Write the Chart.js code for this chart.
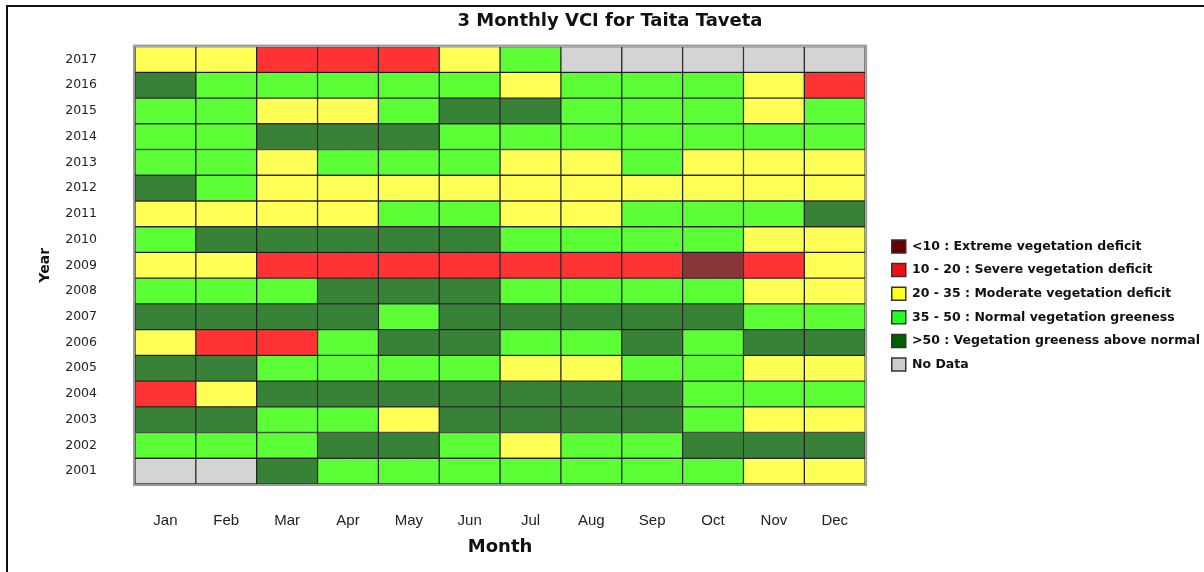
<!DOCTYPE html>
<html>
<head>
<meta charset="utf-8">
<title>3 Monthly VCI for Taita Taveta</title>
<script src="https://cdn.jsdelivr.net/npm/chart.js@4.4.1/dist/chart.umd.min.js"></script>
<style>
  html, body { margin: 0; padding: 0; background: #fff; }
  #frame { position: absolute; left: 6px; top: 5px; width: 1210px; height: 600px; border-top: 2px solid #111; border-left: 2px solid #111; }
  #wrap { position: absolute; left: 0; top: 0; width: 1204px; height: 572px; }
</style>
</head>
<body>
<div id="frame"></div>
<div id="wrap"><canvas id="vciChart"></canvas></div>

<script>
  var months = ['Jan', 'Feb', 'Mar', 'Apr', 'May', 'Jun', 'Jul', 'Aug', 'Sep', 'Oct', 'Nov', 'Dec'];
  var years = [2001, 2002, 2003, 2004, 2005, 2006, 2007, 2008, 2009, 2010, 2011, 2012, 2013, 2014, 2015, 2016, 2017];

  // VCI classes: X extreme, S severe, M moderate, N normal, A above normal, - no data
  var classCodes = ['X', 'S', 'M', 'N', 'A', '-'];
  var classLabels = [
    '<10 : Extreme vegetation deficit',
    '10 - 20 : Severe vegetation deficit',
    '20 - 35 : Moderate vegetation deficit',
    '35 - 50 : Normal vegetation greeness',
    '>50 : Vegetation greeness above normal',
    'No Data'
  ];
  var cellColours = ['#893636', '#ff3333', '#ffff55', '#5cff36', '#378237', '#d4d4d4'];
  var legendColours = ['#660000', '#ee1111', '#ffff22', '#22ff22', '#005f00', '#cccccc'];

  // one row per year, Jan..Dec
  var r2001 = ['-', '-', 'A', 'N', 'N', 'N', 'N', 'N', 'N', 'N', 'M', 'M'];
  var r2002 = ['N', 'N', 'N', 'A', 'A', 'N', 'M', 'N', 'N', 'A', 'A', 'A'];
  var r2003 = ['A', 'A', 'N', 'N', 'M', 'A', 'A', 'A', 'A', 'N', 'M', 'M'];
  var r2004 = ['S', 'M', 'A', 'A', 'A', 'A', 'A', 'A', 'A', 'N', 'N', 'N'];
  var r2005 = ['A', 'A', 'N', 'N', 'N', 'N', 'M', 'M', 'N', 'N', 'M', 'M'];
  var r2006 = ['M', 'S', 'S', 'N', 'A', 'A', 'N', 'N', 'A', 'N', 'A', 'A'];
  var r2007 = ['A', 'A', 'A', 'A', 'N', 'A', 'A', 'A', 'A', 'A', 'N', 'N'];
  var r2008 = ['N', 'N', 'N', 'A', 'A', 'A', 'N', 'N', 'N', 'N', 'M', 'M'];
  var r2009 = ['M', 'M', 'S', 'S', 'S', 'S', 'S', 'S', 'S', 'X', 'S', 'M'];
  var r2010 = ['N', 'A', 'A', 'A', 'A', 'A', 'N', 'N', 'N', 'N', 'M', 'M'];
  var r2011 = ['M', 'M', 'M', 'M', 'N', 'N', 'M', 'M', 'N', 'N', 'N', 'A'];
  var r2012 = ['A', 'N', 'M', 'M', 'M', 'M', 'M', 'M', 'M', 'M', 'M', 'M'];
  var r2013 = ['N', 'N', 'M', 'N', 'N', 'N', 'M', 'M', 'N', 'M', 'M', 'M'];
  var r2014 = ['N', 'N', 'A', 'A', 'A', 'N', 'N', 'N', 'N', 'N', 'N', 'N'];
  var r2015 = ['N', 'N', 'M', 'M', 'N', 'A', 'A', 'N', 'N', 'N', 'M', 'N'];
  var r2016 = ['A', 'N', 'N', 'N', 'N', 'N', 'M', 'N', 'N', 'N', 'M', 'S'];
  var r2017 = ['M', 'M', 'S', 'S', 'S', 'M', 'N', '-', '-', '-', '-', '-'];
  var yearRows = [r2001, r2002, r2003, r2004, r2005, r2006, r2007, r2008, r2009,
                  r2010, r2011, r2012, r2013, r2014, r2015, r2016, r2017];

  var sans = "'DejaVu Sans', Verdana, sans-serif";
  var narrow = "'Liberation Sans Narrow', 'Liberation Sans', Arial, sans-serif";

  // each year is a dataset of floating bars, one per month
  var datasets = years.map(function (yr, i) {
    return {
      label: String(yr),
      data: months.map(function () { return [yr - 0.5, yr + 0.5]; }),
      backgroundColor: yearRows[i].map(function (c) { return cellColours[classCodes.indexOf(c)]; }),
      borderColor: 'rgba(0,0,0,0.8)',
      borderWidth: 1,
      borderSkipped: false,
      categoryPercentage: 1,
      barPercentage: 1
    };
  });

  var plotFrame = {
    id: 'plotFrame',
    afterDraw: function (chart) {
      var a = chart.chartArea, ctx = chart.ctx;
      ctx.save();
      ctx.strokeStyle = '#9a9a9a';
      ctx.lineWidth = 2;
      ctx.strokeRect(a.left - 1, a.top - 1, a.right - a.left + 2, a.bottom - a.top + 2);
      ctx.restore();
    }
  };

  var ctx = document.getElementById('vciChart').getContext('2d');
  var vciChart = new Chart(ctx, {
    type: 'bar',
    data: { labels: months, datasets: datasets },
    plugins: [plotFrame],
    options: {
      responsive: true,
      maintainAspectRatio: false,
      animation: false,
      layout: { padding: { left: 10, right: -6, top: 0, bottom: 0 } },
      plugins: {
        title: {
          display: true,
          text: '3 Monthly VCI for Taita Taveta',
          color: '#111',
          font: { family: sans, size: 18, weight: 'bold' },
          padding: { top: 11, bottom: 14 }
        },
        legend: {
          position: 'right',
          align: 'center',
          maxWidth: 400,
          onClick: function () {},
          title: { display: true, text: '', font: { size: 10 }, padding: { top: 0, bottom: 27 } },
          labels: {
            boxWidth: 14,
            boxHeight: 13,
            padding: 10.6,
            color: '#111',
            font: { family: sans, size: 12.5, weight: 'bold' },
            generateLabels: function () {
              return classLabels.map(function (t, i) {
                return { text: t, fillStyle: legendColours[i], strokeStyle: '#333', lineWidth: 1.5, fontColor: '#111', hidden: false, index: i };
              });
            }
          }
        },
        tooltip: { enabled: false }
      },
      scales: {
        x: {
          type: 'category',
          stacked: true,
          offset: true,
          z: 1,
          grid: { offset: false, drawTicks: false, color: 'rgba(0,0,0,0.14)' },
          border: { display: false, dash: [2, 3] },
          ticks: { padding: 28, color: '#222', font: { family: narrow, size: 15 } },
          title: { display: true, text: 'Month', color: '#111', font: { family: sans, size: 18, weight: 'bold' }, padding: { top: 0, bottom: 14 } },
          afterFit: function (s) { s.height = 88; }
        },
        y: {
          type: 'linear',
          min: 2000.5,
          max: 2017.5,
          z: 1,
          grid: { drawTicks: false, color: 'rgba(0,0,0,0.14)' },
          border: { display: false, dash: [2, 3] },
          afterBuildTicks: function (s) { s.ticks = years.map(function (v) { return { value: v }; }); },
          ticks: { padding: 38, color: '#222', font: { family: sans, size: 12.5 }, callback: function (v) { return String(v); } },
          title: { display: true, text: 'Year', color: '#111', font: { family: sans, size: 14, weight: 'bold' }, padding: { top: 27 } },
          afterFit: function (s) { s.width = 125; }
        },
        spacer: {
          type: 'linear',
          position: 'right',
          display: true,
          grid: { display: false },
          ticks: { display: false },
          border: { display: false },
          afterFit: function (s) { s.width = 16; }
        }
      }
    }
  });
</script>
</body>
</html>
